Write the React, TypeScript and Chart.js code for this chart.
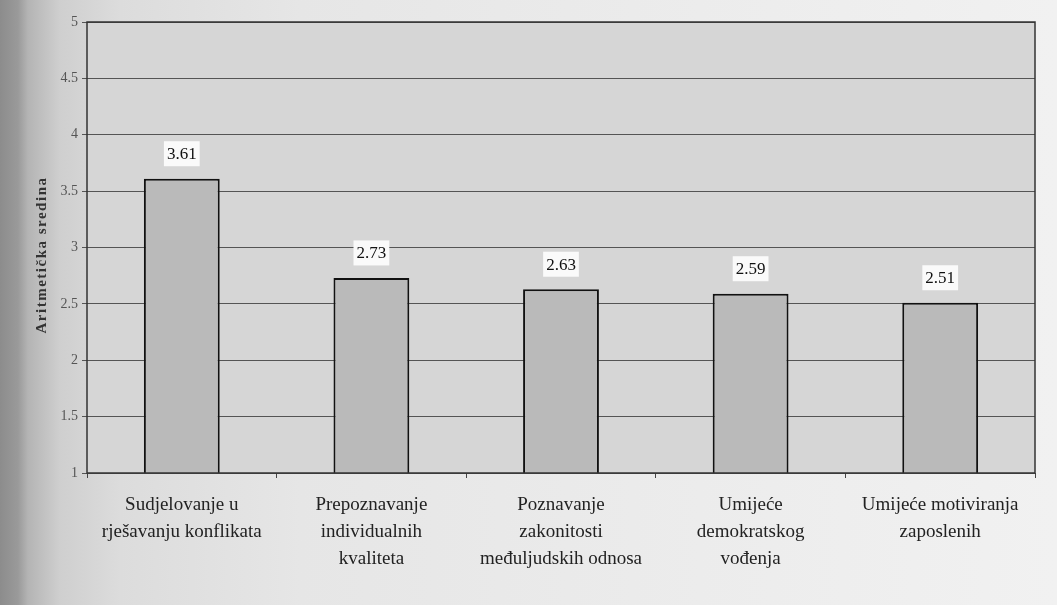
import React, { useEffect, useRef } from "react";
import { Chart, registerables } from "chart.js";

Chart.register(...registerables);

const categories: string[][] = [
  ["Sudjelovanje u", "rješavanju konflikata"],
  ["Prepoznavanje", "individualnih", "kvaliteta"],
  ["Poznavanje", "zakonitosti", "međuljudskih odnosa"],
  ["Umijeće", "demokratskog", "vođenja"],
  ["Umijeće motiviranja", "zaposlenih"],
];
const values: number[] = [3.61, 2.73, 2.63, 2.59, 2.51];
const yTitle = "Aritmetička sredina";
const yMin = 1;
const yMax = 5;
const yStep = 0.5;

const SERIF = "'Liberation Serif', 'DejaVu Serif', serif";

const bgPlugin = {
  id: "plotBg",
  beforeDraw(chart: any) {
    const { ctx, chartArea } = chart;
    ctx.save();
    ctx.fillStyle = "#d6d6d6";
    ctx.fillRect(chartArea.left, chartArea.top, chartArea.right - chartArea.left, chartArea.bottom - chartArea.top);
    ctx.restore();
  },
  afterDraw(chart: any) {
    const { ctx, chartArea } = chart;
    ctx.save();
    ctx.strokeStyle = "#333";
    ctx.lineWidth = 1.5;
    ctx.strokeRect(chartArea.left, chartArea.top, chartArea.right - chartArea.left, chartArea.bottom - chartArea.top);
    // y title
    ctx.translate(42, 255);
    ctx.rotate(-Math.PI / 2);
    ctx.fillStyle = "#333";
    ctx.font = `bold 15px ${SERIF}`;
    ctx.textAlign = "center";
    ctx.textBaseline = "middle";
    (ctx as any).letterSpacing = "1.5px";
    ctx.fillText(yTitle, 0, 0);
    ctx.restore();
  },
};

const labelPlugin = {
  id: "valueLabels",
  afterDatasetsDraw(chart: any) {
    const { ctx } = chart;
    const meta = chart.getDatasetMeta(0);
    ctx.save();
    ctx.font = `17px ${SERIF}`;
    ctx.textAlign = "center";
    ctx.textBaseline = "middle";
    meta.data.forEach((bar: any, i: number) => {
      const text = values[i].toFixed(2);
      const w = ctx.measureText(text).width + 6;
      const h = 25;
      const cx = bar.x;
      const cy = bar.y - 25;
      ctx.fillStyle = "#fafafa";
      ctx.fillRect(cx - w / 2, cy - h / 2, w, h);
      ctx.fillStyle = "#111";
      ctx.fillText(text, cx, cy + 1);
    });
    ctx.restore();
  },
};

export default function App() {
  const ref = useRef<HTMLCanvasElement>(null);
  useEffect(() => {
    if (!ref.current) return;
    const chart = new Chart(ref.current, {
      type: "bar",
      data: {
        labels: categories,
        datasets: [
          {
            data: values,
            backgroundColor: "#bababa",
            borderColor: "#111",
            borderWidth: 2,
            barPercentage: 0.4,
            categoryPercentage: 1,
          },
        ],
      },
      options: {
        animation: false,
        responsive: false,
        maintainAspectRatio: false,
        layout: { padding: { left: 0, right: 22, top: 22, bottom: 0 } },
        plugins: { legend: { display: false }, tooltip: { enabled: false } },
        scales: {
          y: {
            min: yMin,
            max: yMax,
            ticks: {
              stepSize: yStep,
              color: "#555",
              font: { family: SERIF, size: 14 },
              padding: 4,
              callback: (v: any) => String(Number(v)),
            },
            grid: { color: "#555", lineWidth: 1, tickLength: 5 },
            border: { display: false },
            afterFit(scale: any) {
              scale.width = 87;
            },
          },
          x: {
            ticks: {
              color: "#222",
              font: { family: SERIF, size: 19, lineHeight: 1.42 },
              padding: 14,
              maxRotation: 0,
              autoSkip: false,
            },
            grid: { display: true, drawOnChartArea: false, color: "#444", tickLength: 5, offset: true },
            border: { display: false },
            afterFit(scale: any) {
              scale.height = 132;
            },
          },
        },
      },
      plugins: [bgPlugin, labelPlugin],
    });
    return () => chart.destroy();
  }, []);
  return (
    <div
      style={{
        position: "fixed",
        left: 0,
        top: 0,
        width: 1057,
        height: 605,
        background:
          "linear-gradient(to right, #8c8c8c 0px, #9a9a9a 18px, #b4b4b4 28px, #cfcfcf 60px, #dcdcdc 120px, #e6e6e6 300px, #ececec 700px, #f1f1f1 100%)",
      }}
    >
      <canvas ref={ref} width={1057} height={605} style={{ display: "block" }} />
    </div>
  );
}
